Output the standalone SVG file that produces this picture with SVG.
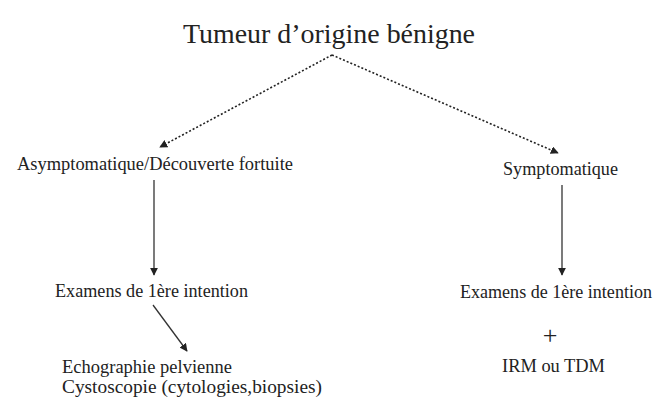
<svg xmlns="http://www.w3.org/2000/svg" width="659" height="400" viewBox="0 0 659 400">
<defs>
<style>
text{font-family:"Liberation Serif","Times New Roman",serif;fill:#222;}
.t18{font-size:18px;}
.solid{stroke:#333;stroke-width:1.3;fill:none;}
.dot{stroke:#222;stroke-width:1.6;fill:none;stroke-dasharray:2 2;}
</style>
<marker id="ah" viewBox="0 0 10 10" refX="9" refY="5" markerWidth="8" markerHeight="8" markerUnits="userSpaceOnUse" orient="auto">
<path d="M0,0 L10,5 L0,10 z" fill="#222"/>
</marker>
</defs>
<rect width="659" height="400" fill="#fff"/>
<g id="connectors">
<polyline class="dot" points="332,55 160,147" marker-end="url(#ah)"/>
<polyline class="dot" points="332,55 558,153" marker-end="url(#ah)"/>
<line class="solid" x1="154" y1="180" x2="154" y2="275" marker-end="url(#ah)"/>
<line class="solid" x1="562" y1="185" x2="562" y2="275" marker-end="url(#ah)"/>
<line class="solid" x1="153" y1="305" x2="187" y2="351" marker-end="url(#ah)"/>
</g>
<g id="root"><text x="183" y="43" font-size="28" textLength="292" lengthAdjust="spacingAndGlyphs">Tumeur d’origine bénigne</text></g>
<g id="asymptomatique"><text class="t18" x="17" y="170" textLength="276" lengthAdjust="spacingAndGlyphs">Asymptomatique/Découverte fortuite</text></g>
<g id="symptomatique"><text class="t18" x="503" y="175" textLength="115" lengthAdjust="spacingAndGlyphs">Symptomatique</text></g>
<g id="examens-gauche"><text class="t18" x="55" y="297" textLength="193" lengthAdjust="spacingAndGlyphs">Examens de 1ère intention</text></g>
<g id="examens-droite">
<text class="t18" x="460" y="298" textLength="192" lengthAdjust="spacingAndGlyphs">Examens de 1ère intention</text>
<text x="550" y="344" font-size="26" text-anchor="middle">+</text>
<text class="t18" x="502" y="372" textLength="103" lengthAdjust="spacingAndGlyphs">IRM ou TDM</text>
</g>
<g id="echographie">
<text class="t18" x="62" y="373" textLength="170" lengthAdjust="spacingAndGlyphs">Echographie pelvienne</text>
<text class="t18" x="62" y="393" textLength="260" lengthAdjust="spacingAndGlyphs">Cystoscopie (cytologies,biopsies)</text>
</g>
</svg>
